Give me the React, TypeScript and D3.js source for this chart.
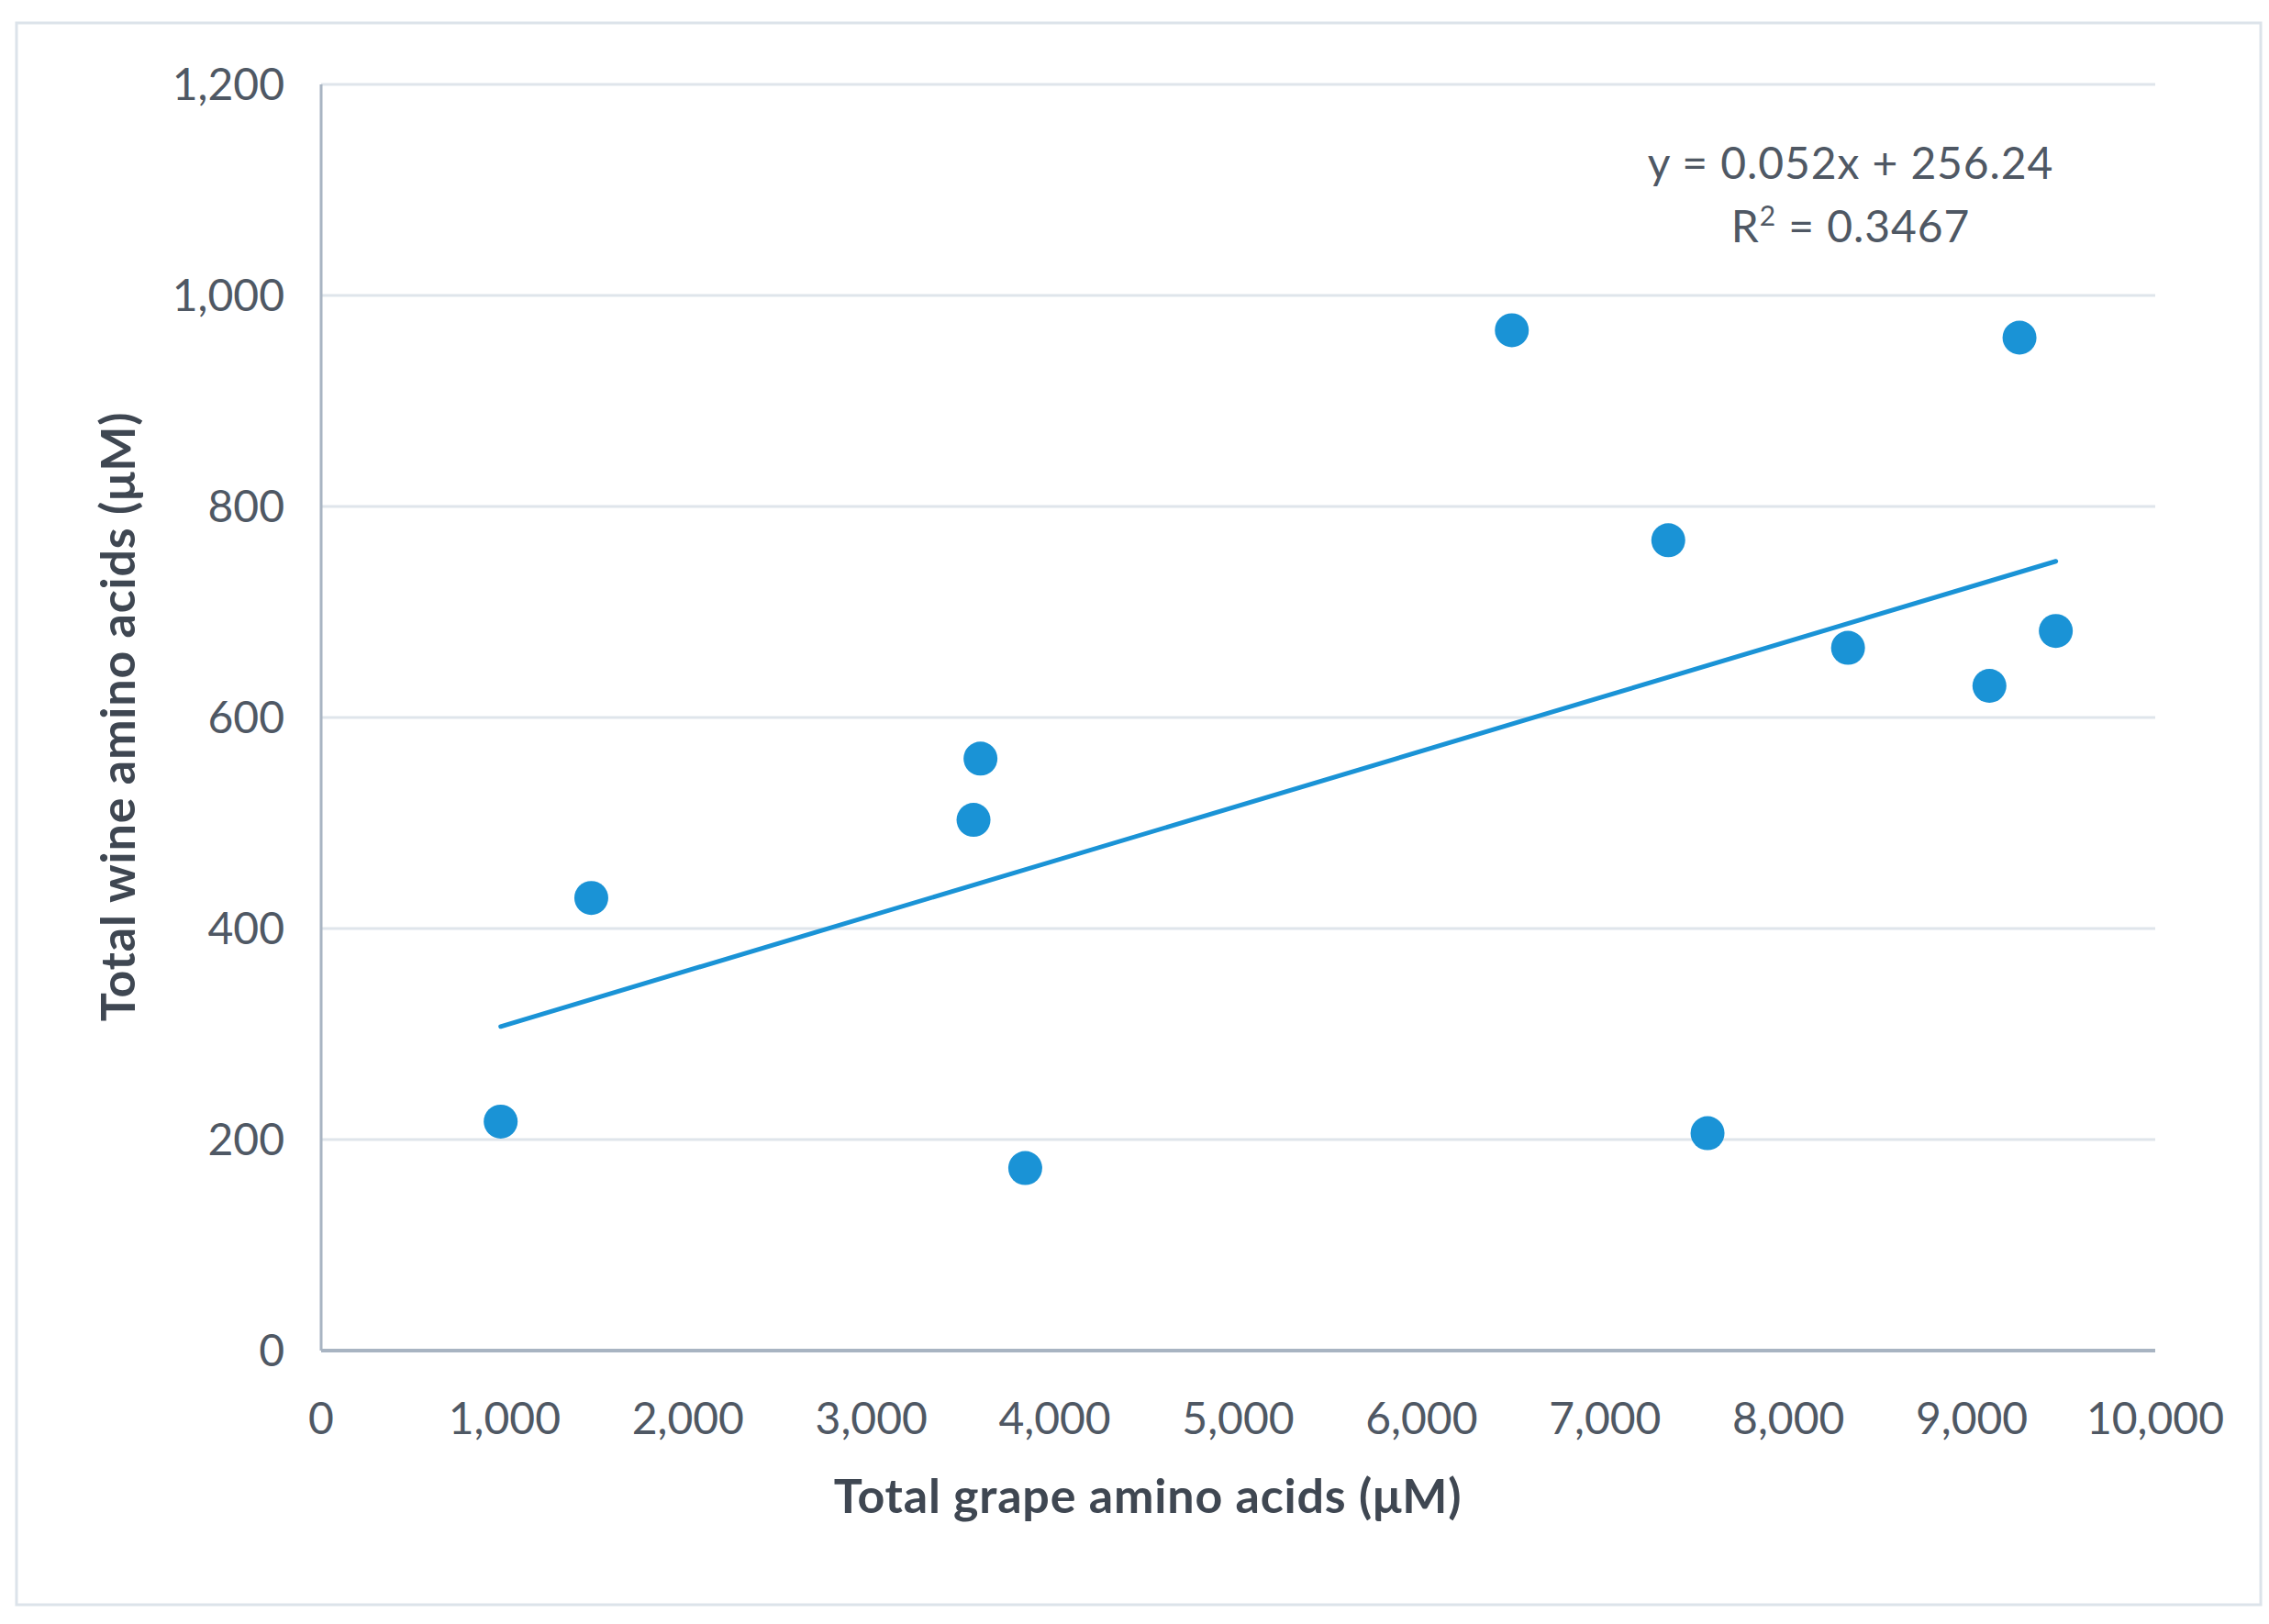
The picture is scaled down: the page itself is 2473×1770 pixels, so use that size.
import * as d3 from 'd3';

// values
const grapeTotal = [979, 1473, 3557, 3595, 3839, 6492, 7345, 7559, 8325, 9096, 9260, 9458];
const wineTotal = [217, 429, 503, 561, 173, 967, 768, 206, 666, 630, 960, 682];

const xTicks = [0, 1000, 2000, 3000, 4000, 5000, 6000, 7000, 8000, 9000, 10000];
const yTicks = [0, 200, 400, 600, 800, 1000, 1200];

const trendSlope = 0.052;
const trendIntercept = 256.24;
const equationLabel = 'y = 0.052x + 256.24';
const rSquaredLabel = '0.3467';

const xTitle = 'Total grape amino acids (μM)';
const yTitle = 'Total wine amino acids (μM)';

const W = 2473;
const H = 1770;
const FONT = 'Lato, "Open Sans", sans-serif';
const BLUE = '#1a93d6';
const TEXT = '#4f5864';

export default function App() {
  const plot = { left: 350, right: 2349, top: 92, bottom: 1472 };

  const x = d3.scaleLinear().domain([0, 10000]).range([plot.left, plot.right]);
  const y = d3.scaleLinear().domain([0, 1200]).range([plot.bottom, plot.top]);
  const fmt = d3.format(',');

  const points = grapeTotal.map((g, i) => ({ g, w: wineTotal[i] }));

  // trendline spans the x-range of the data, like Excel does
  const [xMin, xMax] = d3.extent(grapeTotal) as [number, number];
  const trend = d3.line<number>()
    .x(d => x(d))
    .y(d => y(trendSlope * d + trendIntercept));

  return (
    <div style={{ position: 'absolute', left: 0, top: 0, width: W, height: H, background: '#fff' }}>
      <svg width={W} height={H} style={{ display: 'block' }} fontFamily={FONT}>
        <rect x={0} y={0} width={W} height={H} fill="#fff" />
        {/* chart border */}
        <rect x={18} y={25} width={2446} height={1724} fill="none" stroke="#dce3ea" strokeWidth={3} />

        {/* gridlines */}
        {yTicks.filter(t => t > 0).map(t => (
          <line key={t} x1={plot.left} x2={plot.right} y1={y(t)} y2={y(t)} stroke="#dfe5eb" strokeWidth={3} />
        ))}

        {/* axes */}
        <line x1={plot.left} x2={plot.left} y1={plot.top} y2={plot.bottom} stroke="#a8b4c2" strokeWidth={3} />
        <line x1={plot.left} x2={plot.right} y1={plot.bottom} y2={plot.bottom} stroke="#a8b4c2" strokeWidth={4} />

        {/* tick labels */}
        {yTicks.map(t => (
          <text key={t} x={310} y={y(t)} dy="0.35em" textAnchor="end" fontSize={48} fill={TEXT}>
            {fmt(t)}
          </text>
        ))}
        {xTicks.map(t => (
          <text key={t} x={x(t)} y={1563} textAnchor="middle" fontSize={48} fill={TEXT}>
            {fmt(t)}
          </text>
        ))}

        {/* axis titles */}
        <text x={1251} y={1649} textAnchor="middle" fontSize={52} letterSpacing={0.8} fontWeight="bold" fill="#3f4752">
          {xTitle}
        </text>
        <text
          transform={`translate(147,781) rotate(-90)`}
          textAnchor="middle"
          fontSize={52}
          letterSpacing={0.8}
          fontWeight="bold"
          fill="#3f4752"
        >
          {yTitle}
        </text>

        {/* trendline */}
        <path d={trend([xMin, xMax]) || ''} fill="none" stroke={BLUE} strokeWidth={5} strokeLinecap="round" />

        {/* points */}
        {points.map((p, i) => (
          <circle key={i} cx={x(p.g)} cy={y(p.w)} r={18.5} fill={BLUE} />
        ))}

        {/* equation */}
        <text x={2017} y={195} textAnchor="middle" fontSize={48} letterSpacing={0.9} fill={TEXT}>
          {equationLabel}
        </text>
        <text x={2017} y={264} textAnchor="middle" fontSize={48} letterSpacing={0.9} fill={TEXT}>
          R<tspan dy={-18} fontSize={30}>2</tspan>
          <tspan dy={18}> = {rSquaredLabel}</tspan>
        </text>
      </svg>
    </div>
  );
}
